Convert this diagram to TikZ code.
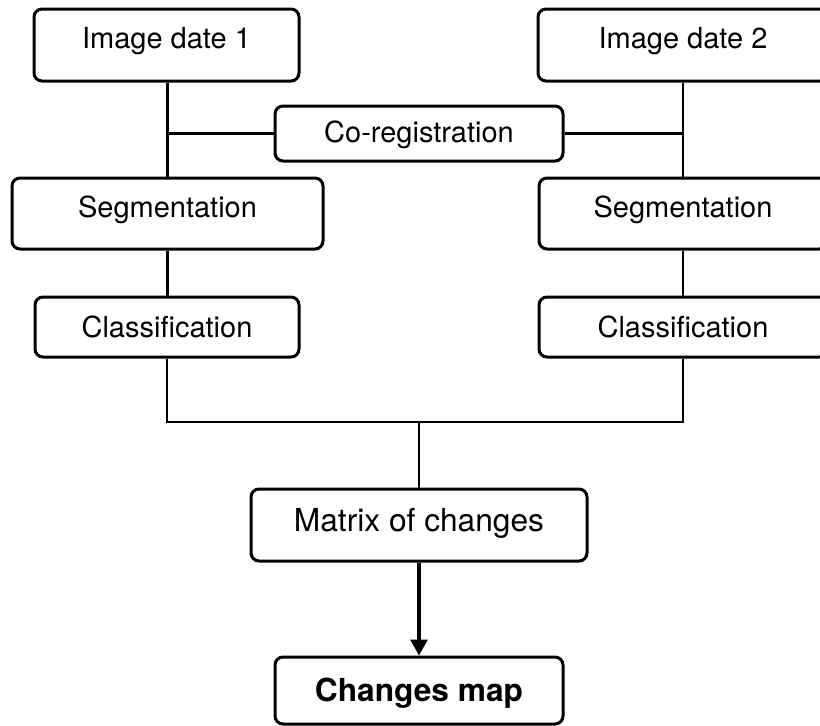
\documentclass[tikz,border=0pt]{standalone}
\usepackage{fontspec}
\setmainfont{TeX Gyre Heros}
\usetikzlibrary{arrows.meta}
\begin{document}
\begin{tikzpicture}[x=1pt,y=-1pt,
  box/.style={draw=black,line width=3pt,rounded corners=8pt,inner sep=0pt,
    font=\fontsize{29}{34}\selectfont,text height=20.5pt,text depth=0pt},
  bigbox/.style={box,font=\fontsize{31.7}{38}\selectfont,text height=22.7pt},
  link/.style={line width=2.6pt},
  arr/.style={line width=3.2pt,-{Triangle[length=16pt,width=17pt]}}]
\useasboundingbox (0,0) rectangle (820,726);
\clip (0,0) rectangle (820,726);
\node[box,minimum width=265pt,minimum height=72pt,text depth=13pt] (d1) at (166.5,45) {Image date 1};
\node[box,minimum width=290pt,minimum height=72pt,text depth=13pt] (d2) at (683,45) {Image date 2};
\node[box,minimum width=288pt,minimum height=55pt,text depth=2pt] (coreg) at (419,133.5) {Co-registration};
\node[box,minimum width=311pt,minimum height=71pt,text depth=12pt] (seg1) at (167.5,213.5) {Segmentation};
\node[box,minimum width=288pt,minimum height=71pt,text depth=12pt] (seg2) at (683,213.5) {Segmentation};
\node[box,minimum width=264pt,minimum height=60pt] (cls1) at (167,327) {Classification};
\node[box,minimum width=288pt,minimum height=60pt] (cls2) at (683,327) {Classification};
\node[bigbox,minimum width=336pt,minimum height=72pt,text depth=9pt] (mat) at (419,525) {Matrix of changes};
\node[bigbox,minimum width=288pt,minimum height=67pt,font=\fontsize{31.7}{38}\selectfont\bfseries] (map) at (419,690.5) {Changes map};
\coordinate (j) at (419,422);
\draw[link] (d1.south -| seg1.north) -- (seg1.north);
\draw[link] (d2.south) -- (seg2.north);
\draw[link] (coreg.west) -- (coreg.west -| seg1.north);
\draw[link] (coreg.east) -- (coreg.east -| seg2.north);
\draw[link] (seg1.south) -- (seg1.south |- cls1.north);
\draw[link] (seg2.south) -- (cls2.north);
\draw[link] (cls1.south) |- (j) -| (cls2.south);
\draw[link] (j) -- (mat.north);
\draw[arr] (mat.south) -- (map.north);
\end{tikzpicture}
\end{document}
